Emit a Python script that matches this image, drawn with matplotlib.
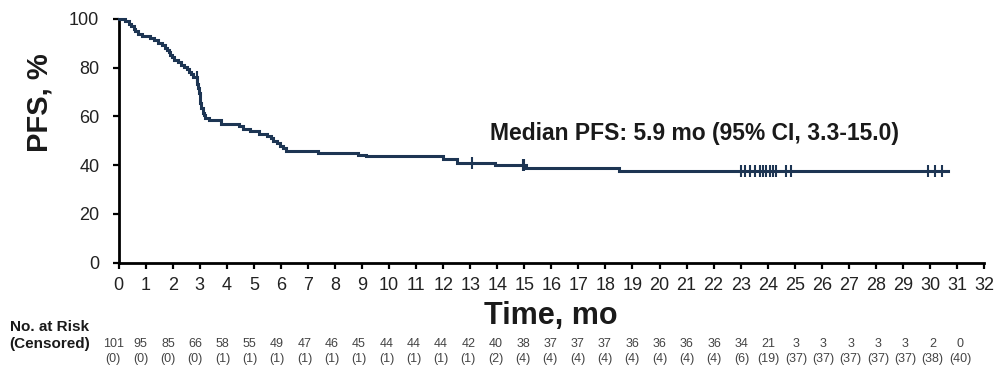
import numpy as np
import matplotlib
matplotlib.use("Agg")
import matplotlib.pyplot as plt
from matplotlib.transforms import blended_transform_factory

plt.rcParams['font.family'] = ['Liberation Sans', 'DejaVu Sans']

# ---- data ----
step_times = [0.00, 0.25, 0.38, 0.47, 0.55, 0.62, 0.70, 0.85, 1.15, 1.30, 1.45, 1.60,
              1.70, 1.78, 1.85, 1.90, 1.96, 2.05, 2.18, 2.30, 2.42, 2.52, 2.60, 2.68,
              2.76, 2.90, 2.93, 2.96, 2.99, 3.02, 3.05, 3.10, 3.15, 3.20, 3.35, 3.80,
              4.45, 4.60, 4.85, 5.20, 5.50, 5.62, 5.72, 5.85, 5.98, 6.08, 6.18, 7.38,
              8.85, 9.15, 12.00, 12.50, 13.90, 15.05, 18.50]
step_surv = [100.0, 99.0, 98.0, 97.0, 96.0, 95.0, 94.0, 93.2, 92.2, 91.2, 90.3, 89.3,
             88.3, 87.3, 86.3, 85.3, 84.3, 83.3, 82.3, 81.3, 80.3, 79.3, 78.3, 77.3,
             76.3, 73.5, 71.5, 69.5, 67.5, 65.5, 63.5, 61.5, 60.5, 59.5, 58.6, 57.0,
             56.0, 55.0, 54.0, 53.0, 52.0, 51.0, 50.0, 49.0, 48.0, 47.0, 46.0, 45.0,
             44.2, 43.6, 42.4, 41.0, 40.1, 38.9, 37.7]
last_followup = 30.66

censor_times = [2.88, 13.05, 14.97, 15.0, 23.0, 23.15, 23.34, 23.52, 23.71, 23.83,
                23.95, 24.08, 24.2, 24.3, 24.66, 24.88, 29.93, 30.18, 30.43]

x_ticks = list(range(0, 33))
y_ticks = [0, 20, 40, 60, 80, 100]

at_risk = [101, 95, 85, 66, 58, 55, 49, 47, 46, 45, 44, 44, 44, 42, 40, 38, 37, 37,
           37, 36, 36, 36, 36, 34, 21, 3, 3, 3, 3, 3, 2, 0]
censored = [0, 0, 0, 0, 1, 1, 1, 1, 1, 1, 1, 1, 1, 1, 2, 4, 4, 4, 4, 4, 4, 4, 4, 6,
            19, 37, 37, 37, 37, 37, 38, 40]

median_text = "Median PFS: 5.9 mo (95% CI, 3.3-15.0)"

# ---- figure ----
line_color = '#1d3553'
fig = plt.figure(figsize=(10, 3.74), dpi=100)
ax = fig.add_axes([0.1187, 0.2976, 0.8653, 0.6516])

xs = list(step_times) + [last_followup]
ys = list(step_surv) + [step_surv[-1]]
ax.plot(xs, ys, drawstyle='steps-post', color=line_color, lw=2.2, clip_on=False,
        solid_joinstyle='miter', zorder=3)

st = np.array(step_times)
sv = np.array(step_surv)
cy = [sv[np.searchsorted(st, t, side='right') - 1] for t in censor_times]
ax.plot(censor_times, cy, ls='none', marker='|', ms=9, mew=1.5, color=line_color,
        clip_on=False, zorder=4)

ax.text(21.3, 53.2, median_text, ha='center', va='center', fontsize=16.5,
        fontweight='bold', color='#1a1a1a')

ax.set_xlim(0, 32)
ax.set_ylim(0, 100)
ax.set_xticks(x_ticks)
ax.set_yticks(y_ticks)
for s in ['top', 'right']:
    ax.spines[s].set_visible(False)
for s in ['left', 'bottom']:
    ax.spines[s].set_linewidth(2.0)
    ax.spines[s].set_color('black')
ax.tick_params(axis='both', direction='out', length=4, width=1.6, colors='black',
               labelsize=13, labelcolor='#222222')
ax.tick_params(axis='y', pad=10)
ax.tick_params(axis='x', pad=6)

fig.text(0.040, 0.725, "PFS, %", rotation=90, ha='center', va='center',
         fontsize=21, fontweight='bold', color='#1a1a1a')
fig.text(0.551, 0.155, "Time, mo", ha='center', va='center',
         fontsize=22, fontweight='bold', color='#1a1a1a')

fig.text(0.050, 0.1257, "No. at Risk", ha='center', va='center',
         fontsize=11, fontweight='bold', color='#1a1a1a')
fig.text(0.050, 0.0802, "(Censored)", ha='center', va='center',
         fontsize=11, fontweight='bold', color='#1a1a1a')

trans = blended_transform_factory(ax.transData, fig.transFigure)
for i, (n, c) in enumerate(zip(at_risk, censored)):
    xpos = i * 1.01 - 0.2
    ax.text(xpos, 0.0802, str(n), transform=trans, ha='center', va='center',
            fontsize=9, color='#444444', clip_on=False)
    ax.text(xpos, 0.0414, f"({c})", transform=trans, ha='center', va='center',
            fontsize=9, color='#444444', clip_on=False)

fig.savefig('out.png', dpi=100)
